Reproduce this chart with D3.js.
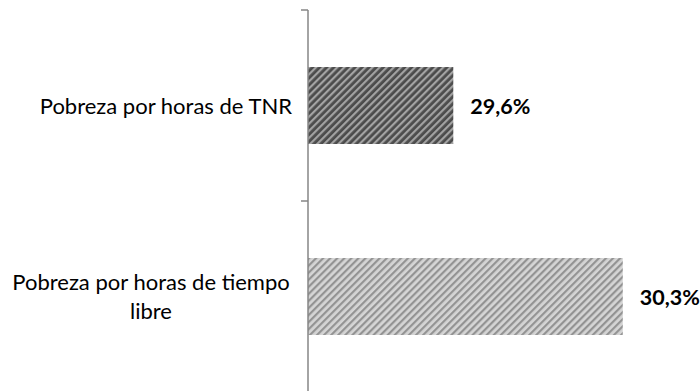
<!DOCTYPE html>
<html>
<head>
<meta charset="utf-8">
<script src="https://cdn.jsdelivr.net/npm/d3@7"></script>
<style>
  html, body { margin: 0; padding: 0; background: #ffffff; }
  svg { display: block; }
  text { font-family: Lato, "Open Sans", sans-serif; fill: #000; }
</style>
</head>
<body>
<svg id="chart" width="700" height="391"></svg>
<script>
// Categories (top to bottom), values in percent, and their printed labels
const categories = [
  ["Pobreza por horas de TNR"],
  ["Pobreza por horas de tiempo", "libre"]
];
const values = [29.6, 30.3];
const valueLabels = ["29,6%", "30,3%"];
const xDomain = [29.0, 30.4];

const svg = d3.select("#chart");
const plotLeft = 308, plotRight = 647, plotTop = 10, plotBottom = 392;

const keys = categories.map(c => c.join(" "));

const x = d3.scaleLinear().domain(xDomain).range([plotLeft, plotRight]);
const gap = 0.597;
const y = d3.scaleBand().domain(keys).range([plotTop, plotBottom])
  .paddingInner(gap).paddingOuter(gap / 2);

// Hatched fills: diagonal stripes rising to the right
const defs = svg.append("defs");
function hatch(id, base, stripe) {
  const p = defs.append("pattern")
    .attr("id", id)
    .attr("patternUnits", "userSpaceOnUse")
    .attr("width", 5).attr("height", 5)
    .attr("patternTransform", "rotate(45)");
  p.append("rect").attr("width", 5).attr("height", 5).attr("fill", base);
  p.append("rect").attr("x", 0).attr("width", 2.2).attr("height", 5).attr("fill", stripe);
}
hatch("hatchDark", "#4b4b4b", "#a3a3a3");
hatch("hatchLight", "#d5d5d5", "#939393");
const fills = ["url(#hatchDark)", "url(#hatchLight)"];

// Bars
svg.append("g").selectAll("rect")
  .data(values)
  .join("rect")
  .attr("x", x(xDomain[0]))
  .attr("y", (d, i) => y(keys[i]))
  .attr("width", d => x(d) - x(xDomain[0]))
  .attr("height", y.bandwidth())
  .attr("fill", (d, i) => fills[i]);

// Vertical category axis with ticks between categories
const step = y.step();
const axis = svg.append("g").attr("stroke", "#868686").attr("stroke-width", 1.5);
axis.append("line")
  .attr("x1", plotLeft).attr("x2", plotLeft)
  .attr("y1", plotTop).attr("y2", plotBottom);
const boundaries = d3.range(keys.length + 1).map(i => plotTop + i * step);
axis.selectAll("line.tick")
  .data(boundaries)
  .join("line")
  .attr("class", "tick")
  .attr("x1", plotLeft - 7).attr("x2", plotLeft)
  .attr("y1", d => d).attr("y2", d => d);

// Category labels (multi-line ones are centred, single-line right-aligned)
const labelCenter = 151;
const labelRight = 292;
const lineH = 29;
svg.append("g").selectAll("text")
  .data(categories)
  .join("text")
  .attr("font-size", 22)
  .attr("text-anchor", lines => lines.length > 1 ? "middle" : "end")
  .each(function (lines, i) {
    const cy = y(keys[i]) + y.bandwidth() / 2;
    const firstBase = cy + 8 - (lines.length - 1) * lineH / 2;
    const t = d3.select(this);
    lines.forEach((ln, j) => {
      t.append("tspan")
        .attr("x", lines.length > 1 ? labelCenter : labelRight)
        .attr("y", firstBase + j * lineH)
        .text(ln);
    });
  });

// Value labels
svg.append("g").selectAll("text")
  .data(values)
  .join("text")
  .attr("x", d => x(d) + 17)
  .attr("y", (d, i) => y(keys[i]) + y.bandwidth() / 2 + 8)
  .attr("font-size", 21.5)
  .attr("font-weight", "bold")
  .text((d, i) => valueLabels[i]);
</script>
</body>
</html>
